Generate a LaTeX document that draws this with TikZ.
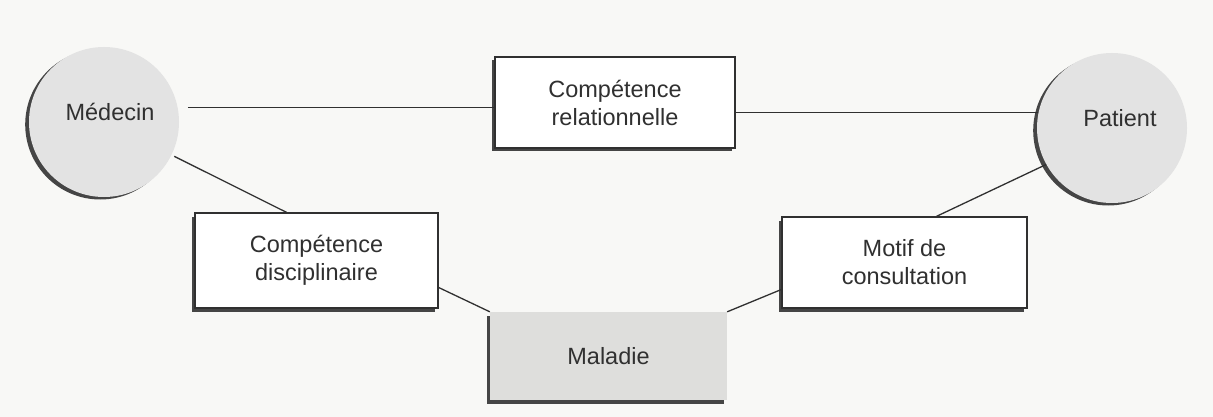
\documentclass[tikz,border=0pt]{standalone}
\usepackage{fontspec}
\setmainfont{Liberation Sans}
\usetikzlibrary{shadows}
\definecolor{bgc}{HTML}{F8F8F6}
\definecolor{inkc}{HTML}{303030}
\definecolor{circc}{HTML}{E3E3E3}
\definecolor{malc}{HTML}{DEDEDC}
\definecolor{shadc}{HTML}{454545}
\begin{document}
\begin{tikzpicture}[x=1pt,y=-1pt,
  txt/.style={font=\fontsize{23.5}{28}\selectfont, text=inkc, align=center},
  boxshadow/.style={drop shadow={shadow xshift=-3.5pt, shadow yshift=-3.5pt, opacity=1, fill=shadc}},
  wbox/.style={txt, draw=inkc, line width=1.3pt, fill=white, inner sep=0pt, boxshadow},
  circ/.style={circle, fill=circc, minimum size=150pt, inner sep=0pt,
    drop shadow={shadow xshift=-3.8pt, shadow yshift=-2.5pt, opacity=1, fill=shadc}},
  conn/.style={draw=inkc, line width=1.3pt}
]
\fill[bgc] (0,0) rectangle (1213,417);
\useasboundingbox (0,0) rectangle (1213,417);

\node[circ, label={[txt, xshift=6pt, yshift=10pt]center:Médecin}] (med) at (104,122) {};
\node[circ, label={[txt, xshift=8pt, yshift=10pt]center:Patient}] (pat) at (1112,128) {};

\node[wbox, minimum width=240pt, minimum height=91pt] (rel) at (615,102.5) {Compétence\\relationnelle};
\node[wbox, minimum width=243pt, minimum height=95pt] (disc) at (316.5,260.5) {Compétence\\disciplinaire};
\node[wbox, minimum width=245pt, minimum height=91pt] (mot) at (904.5,262.5) {Motif de\\consultation};
\node[txt, fill=malc, inner sep=0pt, minimum width=237pt, minimum height=88pt, boxshadow] (mal) at (608.5,356) {Maladie};

\draw[conn, shorten <=10pt] (med.11) -- (med.11 -| rel.west);
\draw[conn] (pat.168) -- (pat.168 -| rel.east);
\draw[conn, shorten <=3pt] (med.-26) -- ([xshift=-30pt]disc.north);
\draw[conn] ([yshift=-27pt]disc.east) -- (mal.north west);
\draw[conn] (mal.north east) -- ([yshift=-27pt]mot.west);
\draw[conn] ([xshift=32pt]mot.north) -- (pat.209);
\end{tikzpicture}
\end{document}
